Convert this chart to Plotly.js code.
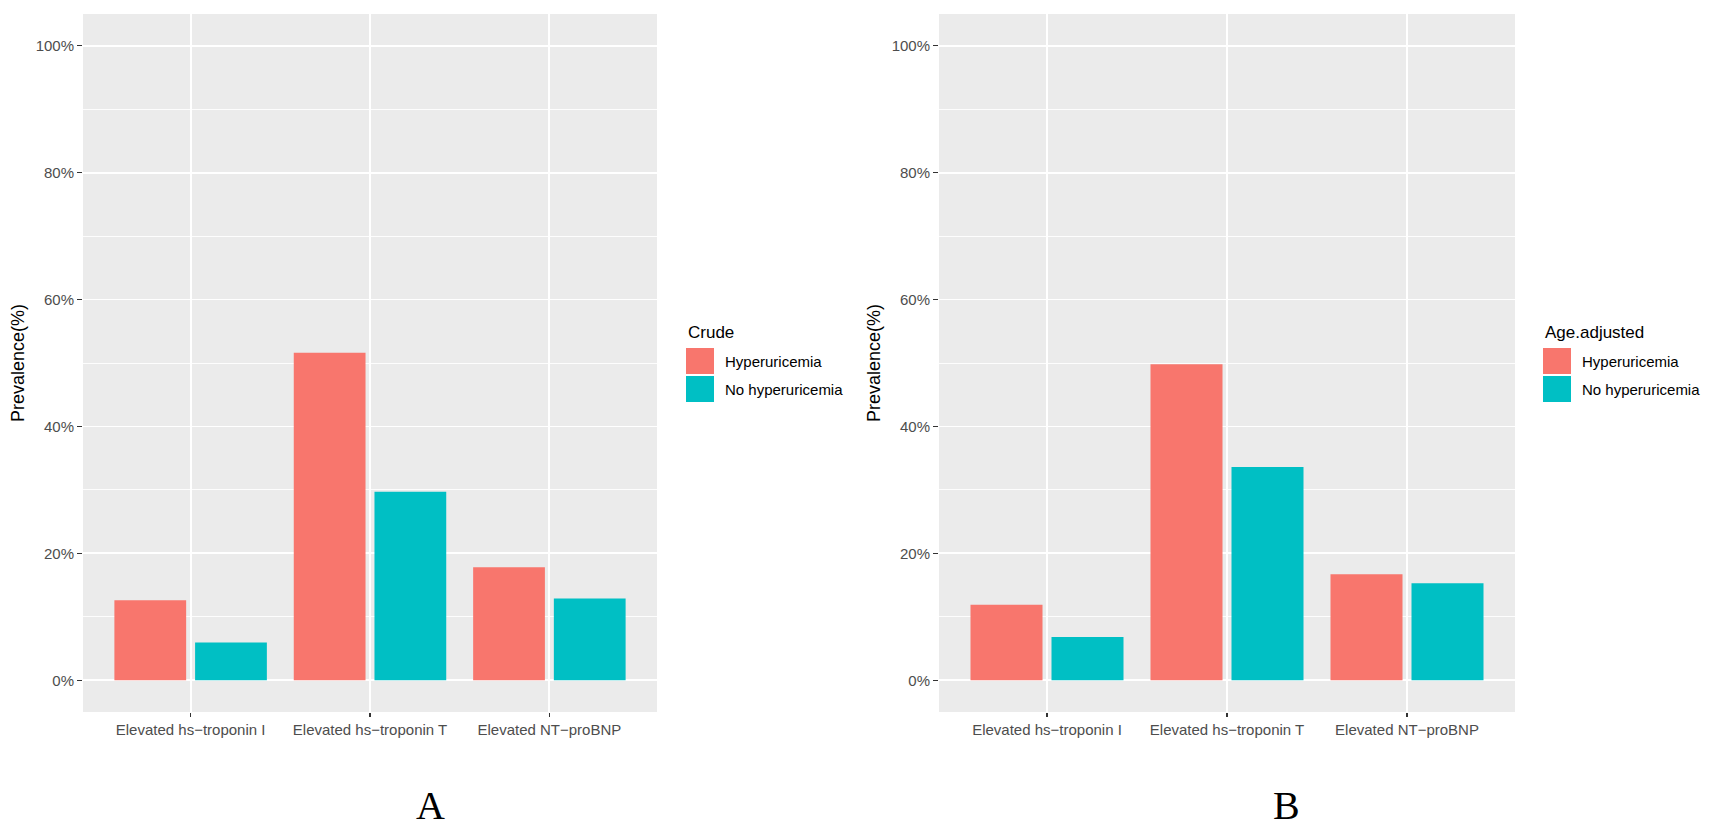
<!DOCTYPE html>
<html>
<head>
<meta charset="utf-8">
<script src="https://cdn.plot.ly/plotly-3.0.1.min.js"></script>
<style>
  html, body { margin: 0; padding: 0; background: #fff; }
  #plot { width: 1728px; height: 834px; }
</style>
</head>
<body>
<div id="plot"></div>
<script>
"use strict";

// ── Data (prevalence, %) ──
const categories = ["Elevated hs\u2212troponin I", "Elevated hs\u2212troponin T", "Elevated NT\u2212proBNP"];
const groupNames = ["Hyperuricemia", "No hyperuricemia"];
const crudeHyper = [12.6, 51.6, 17.8];
const crudeNo    = [5.95, 29.7, 12.9];
const adjHyper   = [11.9, 49.8, 16.7];
const adjNo      = [6.8, 33.6, 15.3];
const yTicks     = [0, 20, 40, 60, 80, 100];
const panelTitles  = ["Crude", "Age.adjusted"];
const panelLetters = ["A", "B"];

const W = 1728, H = 834;
const COLORS = ["#F8766D", "#00BFC4"];
const px = x => x / W;          // pixel -> paper x
const py = y => 1 - y / H;      // pixel -> paper y

function bar(name, y, color, xa, ya) {
    return {
        type: "bar", name: name, x: categories, y: y,
        xaxis: xa, yaxis: ya,
        marker: { color: color, line: { width: 0 } },
        showlegend: false, hovertemplate: "%{x}<br>%{y:.1f}%<extra>" + name + "</extra>",
    };
}

const traces = [
    bar(groupNames[0], crudeHyper, COLORS[0], "x", "y"),
    bar(groupNames[1], crudeNo,    COLORS[1], "x", "y"),
    bar(groupNames[0], adjHyper,   COLORS[0], "x2", "y2"),
    bar(groupNames[1], adjNo,      COLORS[1], "x2", "y2"),
];

const tickFont = { family: "Liberation Sans, Arial, sans-serif", size: 15, color: "#4D4D4D" };

function xAxis(domain, anchor) {
    return {
        domain: domain, anchor: anchor, type: "category",
        range: [-0.6, 2.6], fixedrange: true,
        showgrid: true, gridcolor: "#FFFFFF", gridwidth: 1.8,
        zeroline: false, showline: false,
        ticks: "outside", ticklen: 4, tickwidth: 1.2, tickcolor: "#333333",
        tickfont: tickFont,
    };
}
function yAxis(domain, anchor) {
    return {
        domain: domain, anchor: anchor,
        range: [-5, 105], fixedrange: true,
        tickvals: yTicks, ticktext: yTicks.map(v => v + "%"),
        showgrid: true, gridcolor: "#FFFFFF", gridwidth: 1.8,
        minor: { tick0: 10, dtick: 20, showgrid: true, gridcolor: "#FFFFFF", gridwidth: 0.9, ticks: "" },
        zeroline: false, showline: false,
        ticks: "outside", ticklen: 5, tickwidth: 1.2, tickcolor: "#333333",
        tickfont: tickFont,
        title: { text: "Prevalence(%)", standoff: 6,
                 font: { family: "Liberation Sans, Arial, sans-serif", size: 18, color: "#000000" } },
    };
}

const yDom = [py(712), py(14)];
const panels = [
    { x0: 83,  x1: 657,  legX: 686,  capX: 430 },
    { x0: 939, x1: 1515, legX: 1543, capX: 1286 },
];

const shapes = [];
const annotations = [];
panels.forEach((p, i) => {
    const xr = i === 0 ? "x" : "x2";
    const yr = i === 0 ? "y" : "y2";
    // grey panel background
    shapes.push({ type: "rect", xref: xr + " domain", yref: yr + " domain",
                  x0: 0, x1: 1, y0: 0, y1: 1, fillcolor: "#EBEBEB",
                  line: { width: 0 }, layer: "below" });
    // legend title
    annotations.push({ xref: "paper", yref: "paper", x: px(p.legX), y: py(332),
        xanchor: "left", yanchor: "middle", showarrow: false, text: panelTitles[i],
        font: { family: "Liberation Sans, Arial, sans-serif", size: 17, color: "#000000" } });
    // legend keys + labels
    groupNames.forEach((g, k) => {
        const top = 348 + k * 28;
        shapes.push({ type: "rect", xref: "paper", yref: "paper",
            x0: px(p.legX), x1: px(p.legX + 28), y0: py(top + 26), y1: py(top),
            fillcolor: COLORS[k], line: { width: 0 } });
        annotations.push({ xref: "paper", yref: "paper", x: px(p.legX + 37), y: py(top + 13),
            xanchor: "left", yanchor: "middle", showarrow: false, text: g,
            font: { family: "Liberation Sans, Arial, sans-serif", size: 15, color: "#000000" } });
    });
    // panel letter
    annotations.push({ xref: "paper", yref: "paper", x: px(p.capX), y: py(805),
        xanchor: "center", yanchor: "middle", showarrow: false, text: panelLetters[i],
        font: { family: "Liberation Serif, Times New Roman, serif", size: 40, color: "#000000" } });
});

const layout = {
    width: W, height: H,
    margin: { l: 0, r: 0, t: 0, b: 0 },
    paper_bgcolor: "#FFFFFF", plot_bgcolor: "rgba(0,0,0,0)",
    barmode: "group", bargap: 0.1, bargroupgap: 0.111,
    showlegend: false,
    xaxis:  xAxis([px(panels[0].x0), px(panels[0].x1)], "y"),
    yaxis:  yAxis(yDom, "x"),
    xaxis2: xAxis([px(panels[1].x0), px(panels[1].x1)], "y2"),
    yaxis2: yAxis(yDom, "x2"),
    shapes: shapes,
    annotations: annotations,
};

Plotly.newPlot("plot", traces, layout, { displayModeBar: false, staticPlot: true });
</script>
</body>
</html>
